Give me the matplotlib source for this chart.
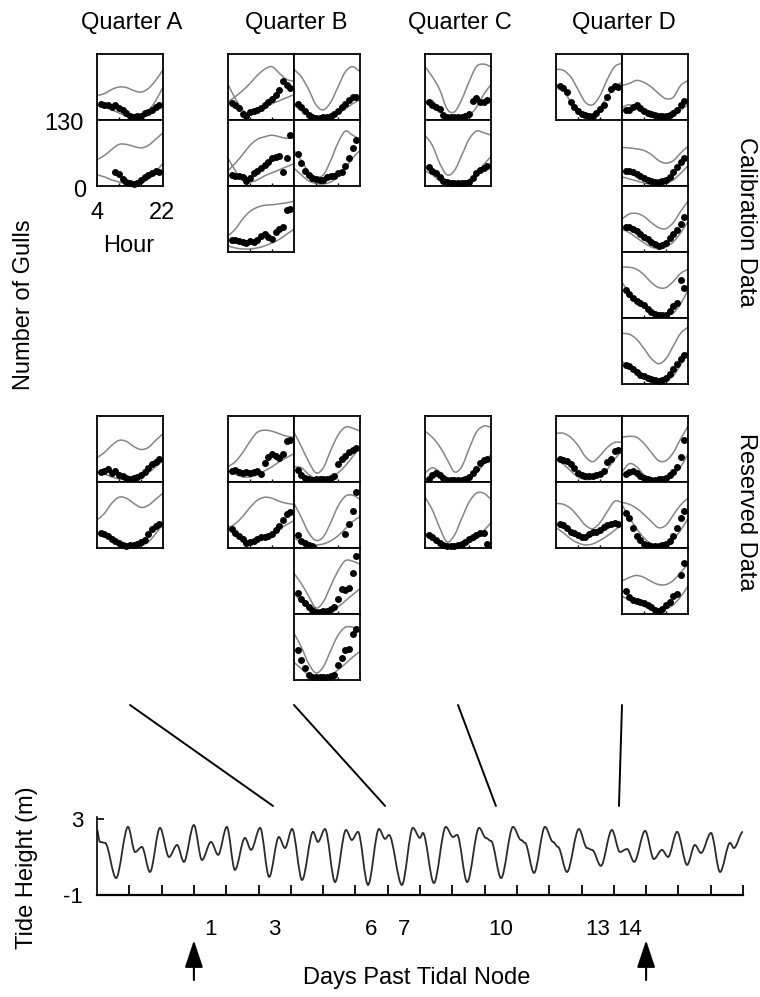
import numpy as np
import matplotlib
matplotlib.use("Agg")
import matplotlib.pyplot as plt
from matplotlib.patches import ConnectionPatch, PathPatch
from matplotlib.path import Path

plt.rcParams['font.family'] = ['Liberation Sans', 'DejaVu Sans']

W, H = 760, 997
nan = np.nan

# hours used for the model curves and the observed counts in every small panel
curve_hours = [4, 6, 8, 10, 12, 14, 16, 18, 20, 22]
obs_hours = list(range(5, 22))

# ---------------- calibration data (rows listed top to bottom) ----------------
cal_A_upper = [[48, 52, 60, 65, 64, 58, 55, 62, 78, 99],
               [52, 60, 72, 82, 82, 78, 75, 80, 92, 105]]
cal_A_lower = [[30, 26, 20, 14, 8, 6, 8, 18, 38, 65],
               [22, 18, 12, 8, 4, 3, 6, 14, 28, 45]]
cal_A_obs = [[31, 29, 29, 26, 29, 23, 20, 13, 8, 5, 8, 7, 13, 16, 20, 26, 29],
             [nan, nan, nan, nan, 27, 24, 13, 8, 5, 4, 6, 12, 18, 22, 25, 30, 28]]

cal_B1_upper = [[36, 46, 58, 72, 88, 100, 105, 92, 80, 76],
                [30, 45, 62, 80, 92, 97, 100, 97, 94, 95],
                [32, 45, 65, 80, 88, 92, 93, 95, 97, 100]]
cal_B1_lower = [[70, 42, 20, 12, 16, 25, 32, 38, 44, 50],
                [55, 30, 12, 8, 12, 20, 26, 32, 38, 44],
                [12, 8, 6, 6, 8, 12, 18, 25, 35, 45]]
cal_B1_obs = [[34, 30, 24, 12, 8, 16, 18, 20, 24, 30, 36, 42, 50, 60, 76, 68, 64],
              [22, 20, 20, 18, 10, 15, 26, 30, 36, 42, 48, 55, 58, 60, 28, 56, 100],
              [24, 24, 22, 20, 18, 22, 20, 24, 32, 36, 30, 26, 40, 45, 50, 82, 85]]

cal_B2_upper = [[100, 85, 60, 30, 20, 35, 65, 95, 105, 95],
                [70, 50, 28, 18, 22, 50, 85, 108, 100, 92]]
cal_B2_lower = [[30, 18, 8, 4, 3, 5, 12, 22, 32, 40],
                [35, 22, 10, 5, 4, 8, 18, 35, 55, 70]]
cal_B2_obs = [[31, 25, 18, 10, 6, 4, 4, 5, 6, 8, 12, 18, 25, 32, 40, 45, 46],
              [64, 45, 30, 22, 16, 13, 12, 12, 18, 20, 20, 25, 28, 40, 55, 75, 90]]

cal_C_upper = [[105, 85, 60, 22, 16, 40, 75, 105, 110, 105],
               [100, 80, 45, 22, 30, 60, 92, 108, 105, 100]]
cal_C_lower = [[35, 38, 20, 5, 2, 3, 8, 25, 50, 70],
               [30, 22, 10, 4, 3, 5, 12, 25, 42, 58]]
cal_C_obs = [[36, 30, 26, 22, 10, 6, 5, 5, 5, 5, 8, 12, 38, 44, 36, 35, 40],
             [38, 30, 26, 18, 10, 8, 6, 5, 5, 5, 6, 8, 16, 25, 32, 36, 40]]

cal_D1_upper = [[100, 98, 85, 60, 35, 30, 48, 80, 105, 112]]
cal_D1_lower = [[70, 60, 35, 15, 8, 10, 25, 45, 65, 75]]
cal_D1_obs = [[66, 64, 56, 35, 25, 18, 12, 9, 8, 8, 14, 22, 30, 45, 62, 66, 65]]

cal_D2_upper = [[68, 72, 78, 74, 65, 52, 42, 45, 68, 78],
                [76, 75, 73, 70, 62, 50, 45, 50, 65, 78],
                [65, 75, 76, 70, 58, 48, 46, 58, 80, 100],
                [100, 100, 96, 85, 70, 60, 60, 72, 88, 96],
                [100, 98, 88, 70, 50, 40, 50, 75, 100, 112]]
cal_D2_lower = [[25, 30, 22, 12, 6, 4, 5, 10, 20, 30],
                [18, 14, 10, 6, 3, 2, 5, 12, 25, 40],
                [45, 38, 28, 18, 10, 6, 10, 20, 38, 60],
                [70, 50, 35, 22, 10, 4, 3, 10, 28, 55],
                [45, 32, 22, 12, 6, 3, 6, 16, 38, 65]]
cal_D2_obs = [[20, 20, 26, 30, 24, 18, 14, 12, 9, 8, 8, 8, 10, 14, 20, 30, 38],
              [30, 30, 27, 24, 20, 15, 12, 10, 8, 8, 10, 12, 18, 28, 38, 48, 56],
              [50, 50, 46, 42, 36, 30, 25, 20, 15, 12, 14, 18, 28, 36, 44, 55, 68],
              [55, 48, 40, 34, 30, 26, 18, 12, 8, 6, 5, 6, 14, 24, 30, 74, 60],
              [38, 35, 30, 24, 18, 16, 12, 10, 8, 6, 8, 12, 20, 30, 40, 50, 58]]

# ---------------- reserved data ----------------
res_A_upper = [[48, 58, 72, 82, 80, 70, 64, 68, 82, 95],
               [55, 68, 88, 100, 98, 88, 80, 84, 96, 108]]
res_A_lower = [[20, 16, 10, 6, 4, 6, 10, 18, 30, 42],
               [30, 25, 18, 10, 4, 2, 4, 12, 28, 48]]
res_A_obs = [[20, 22, 26, 18, 22, 14, 12, 8, 6, 8, 10, 14, 20, 28, 36, 40, 45],
             [30, 28, 24, 18, 14, 10, 6, 3, 5, 6, 8, 12, 16, 28, 38, 44, 48]]

res_B1_upper = [[30, 40, 58, 80, 98, 102, 100, 95, 90, 88],
                [38, 48, 62, 80, 94, 100, 98, 92, 88, 86]]
res_B1_lower = [[22, 15, 10, 10, 14, 22, 30, 40, 48, 56],
                [45, 28, 14, 10, 14, 22, 30, 38, 46, 54]]
res_B1_obs = [[22, 24, 20, 18, 20, 18, 20, 22, 16, 38, 50, 55, 52, 48, 56, 80, 82],
              [38, 30, 24, 18, 10, 12, 14, 18, 22, 22, 24, 28, 36, 44, 55, 66, 70]]

res_B2_upper = [[98, 70, 40, 18, 28, 62, 92, 108, 106, 100],
                [88, 60, 30, 15, 22, 50, 82, 102, 104, 96],
                [80, 60, 35, 12, 24, 55, 85, 105, 104, 98],
                [92, 65, 32, 14, 26, 58, 88, 104, 104, 100]]
res_B2_lower = [[30, 28, 15, 6, 4, 8, 18, 32, 50, 70],
                [20, 12, 8, 6, 8, 14, 24, 38, 52, 62],
                [40, 25, 12, 4, 3, 6, 14, 26, 38, 50],
                [35, 22, 10, 4, 4, 10, 20, 32, 45, 56]]
res_B2_obs = [[24, 14, 8, 5, 4, 5, 5, 5, 6, 8, 12, 35, 45, 52, 60, 64, 66],
              [25, 14, 9, 5, 3, nan, nan, nan, nan, nan, nan, nan, nan, 28, 48, 72, 110],
              [42, 30, 22, 14, 8, 4, 4, 5, 6, 10, 14, 30, 50, 48, 52, 80, 115],
              [60, 40, 24, 10, 6, 5, 5, 6, 6, 8, 10, 30, 44, 60, 62, 90, 100]]

res_C_upper = [[100, 88, 70, 45, 20, 30, 65, 98, 110, 108],
               [100, 75, 40, 12, 25, 58, 90, 108, 108, 96]]
res_C_lower = [[18, 28, 20, 8, 3, 3, 8, 18, 35, 55],
               [30, 18, 8, 3, 2, 4, 10, 20, 34, 50]]
res_C_obs = [[6, 14, 18, 14, 8, 4, 3, 3, 3, 4, 6, 10, 18, 26, 38, 44, 46],
             [26, 22, 16, 10, 6, 4, 4, 4, 5, 8, 12, 18, 22, 26, 30, 30, 8]]

res_D1_upper = [[96, 96, 88, 72, 50, 40, 52, 68, 78, 78],
                [88, 86, 78, 62, 45, 38, 50, 72, 92, 90]]
res_D1_lower = [[45, 35, 22, 10, 5, 6, 12, 25, 45, 62],
                [40, 30, 18, 10, 6, 8, 15, 24, 35, 46]]
res_D1_obs = [[46, 44, 42, 36, 28, 18, 14, 12, 12, 12, 14, 16, 22, 40, 46, 62, 64],
              [48, 46, 40, 32, 30, 26, 22, 22, 28, 32, 32, 36, 42, 46, 48, 50, 48]]

res_D2_upper = [[88, 90, 88, 76, 58, 42, 42, 58, 85, 110],
                [90, 86, 78, 66, 52, 40, 45, 65, 85, 98],
                [65, 72, 76, 72, 64, 58, 58, 66, 82, 98]]
res_D2_lower = [[20, 36, 30, 14, 6, 4, 6, 14, 30, 55],
                [85, 60, 38, 20, 8, 4, 8, 18, 35, 58],
                [35, 28, 22, 15, 10, 8, 10, 18, 34, 55]]
res_D2_obs = [[16, 20, 22, 18, 12, 8, 5, 4, 4, 5, 6, 8, 14, 20, 30, 50, 82],
              [68, 60, 40, 24, 15, 8, 5, 4, 4, 4, 5, 8, 14, 24, 40, 60, 72],
              [46, 34, 28, 26, 24, 22, 18, 14, 8, 6, 10, 18, 24, 36, 40, 76, 100]]

# ---------------- tide record (turning points) ----------------
tide_day = [-2.50, -2.41, -2.25, -1.91, -1.54, -1.32, -1.11, -0.86, -0.55, -0.27,
            -0.02, 0.19, 0.50, 0.75, 1.03, 1.25, 1.52, 1.77, 2.08, 2.27,
            2.55, 2.83, 3.13, 3.32, 3.54, 3.85, 4.19, 4.34, 4.56, 4.87,
            5.21, 5.39, 5.58, 5.89, 6.23, 6.42, 6.54, 6.94, 7.28, 7.50,
            7.59, 7.93, 8.30, 8.52, 8.65, 8.96, 9.33, 9.54, 9.70, 10.01,
            10.38, 10.63, 10.75, 11.03, 11.37, 11.62, 11.77, 12.05, 12.42, 12.67,
            12.83, 13.10, 13.44, 13.69, 13.91, 14.13, 14.47, 14.74, 14.99, 15.18,
            15.46, 15.77, 16.01, 16.20, 16.51, 16.79, 17.10, 17.22, 17.50]
tide_height = [2.42, 1.79, 1.74, -0.11, 2.58, 1.26, 1.53, 0.21, 2.53, 1.00,
               1.63, 0.74, 2.68, 0.84, 1.79, 1.11, 2.58, 0.32, 2.00, 1.37,
               2.53, -0.05, 2.05, 1.47, 2.47, -0.21, 2.32, 1.79, 2.47, -0.32,
               2.42, 1.89, 2.32, -0.47, 2.47, 1.95, 2.16, -0.47, 2.53, 2.00,
               2.26, -0.37, 2.58, 2.05, 2.16, -0.32, 2.53, 2.00, 1.84, -0.11,
               2.58, 1.89, 1.74, 0.16, 2.58, 1.79, 1.53, 0.21, 2.47, 1.47,
               1.37, 0.53, 2.42, 1.26, 1.42, 0.74, 2.37, 0.89, 1.37, 1.00,
               2.32, 0.58, 1.63, 1.21, 2.26, 0.21, 1.74, 1.47, 2.32]
day_labels = [1, 3, 6, 7, 10, 13, 14]
node_days = [0.5, 14.5]
quarter_days = [2.95, 6.42, 9.85, 13.66]   # where each quarter's line meets the tide
quarters = ['Quarter A', 'Quarter B', 'Quarter C', 'Quarter D']

# ---------------- layout (pixels) ----------------
col_left = {'A': 97, 'B1': 228, 'B2': 294, 'C': 425, 'D1': 556, 'D2': 622}
quarter_cx = [130, 294, 458, 622]
PW = 66
cal_top, res_top = 54, 416

cal_cols = {'A': (cal_A_upper, cal_A_lower, cal_A_obs),
            'B1': (cal_B1_upper, cal_B1_lower, cal_B1_obs),
            'B2': (cal_B2_upper, cal_B2_lower, cal_B2_obs),
            'C': (cal_C_upper, cal_C_lower, cal_C_obs),
            'D1': (cal_D1_upper, cal_D1_lower, cal_D1_obs),
            'D2': (cal_D2_upper, cal_D2_lower, cal_D2_obs)}
res_cols = {'A': (res_A_upper, res_A_lower, res_A_obs),
            'B1': (res_B1_upper, res_B1_lower, res_B1_obs),
            'B2': (res_B2_upper, res_B2_lower, res_B2_obs),
            'C': (res_C_upper, res_C_lower, res_C_obs),
            'D1': (res_D1_upper, res_D1_lower, res_D1_obs),
            'D2': (res_D2_upper, res_D2_lower, res_D2_obs)}

GRAY = '#858585'
FS = 17

fig = plt.figure(figsize=(W / 100, H / 100), dpi=100)


def px_axes(left, top, width, height):
    return fig.add_axes([left / W, 1 - (top + height) / H, width / W, height / H])


def ftext(x, y, s, **kw):
    kw.setdefault('fontsize', FS)
    kw.setdefault('ha', 'center')
    kw.setdefault('va', 'center')
    return fig.text(x / W, 1 - y / H, s, **kw)


def smooth_path(x, y, flat=False):
    # cubic Bezier through the given points; flat=True puts level tangents at each point
    x = np.asarray(x, float)
    y = np.asarray(y, float)
    n = len(x)
    if flat:
        m = np.zeros(n)
    else:
        m = np.empty(n)
        m[1:-1] = (y[2:] - y[:-2]) / (x[2:] - x[:-2])
        m[0] = (y[1] - y[0]) / (x[1] - x[0])
        m[-1] = (y[-1] - y[-2]) / (x[-1] - x[-2])
    verts = [(x[0], y[0])]
    codes = [Path.MOVETO]
    for i in range(n - 1):
        dx = (x[i + 1] - x[i]) / 3
        verts += [(x[i] + dx, y[i] + m[i] * dx),
                  (x[i + 1] - dx, y[i + 1] - m[i + 1] * dx),
                  (x[i + 1], y[i + 1])]
        codes += [Path.CURVE4] * 3
    return Path(verts, codes)


def panel(ax, upper, lower, obs):
    for curve in (upper, lower):
        ax.add_patch(PathPatch(smooth_path(curve_hours, curve), fill=False,
                               edgecolor=GRAY, lw=1.1))
    ax.plot(obs_hours, obs, 'o', color='black', ms=5.0, mew=0, clip_on=False, zorder=3)
    ax.set_xlim(4, 22)
    ax.set_ylim(0, 130)
    ax.set_xticks([10, 16])
    ax.set_yticks([])
    ax.tick_params(axis='x', direction='in', length=2.5, width=1, labelbottom=False)
    for sp in ax.spines.values():
        sp.set_linewidth(1.3)
        sp.set_zorder(4)


for cols, top in ((cal_cols, cal_top), (res_cols, res_top)):
    for key, (ups, los, obss) in cols.items():
        for r, (u, lo, ob) in enumerate(zip(ups, los, obss)):
            ax = px_axes(col_left[key], top + r * PW, PW, PW)
            panel(ax, u, lo, ob)

# axis hints on the first calibration column
ftext(64, 124, '130')
ftext(80, 191, '0')
ftext(97, 213, '4')
ftext(162, 213, '22')
ftext(129, 246, 'Hour')
ftext(24, 305, 'Number of Gulls', rotation=90)

for name, cx in zip(quarters, quarter_cx):
    ftext(cx + 2, 23, name)

ftext(746, 222, 'Calibration Data', rotation=-90)
ftext(746, 512, 'Reserved Data', rotation=-90)

# ---------------- tide panel ----------------
axt = px_axes(97, 817, 743 - 97, 895 - 817)
axt.add_patch(PathPatch(smooth_path(tide_day, tide_height, flat=True), fill=False,
                        edgecolor='#2a2a2a', lw=1.3))
axt.set_xlim(-2.5, 17.5)
axt.set_ylim(-1, 3.1)
axt.spines['top'].set_visible(False)
axt.spines['right'].set_visible(False)
axt.spines['left'].set_linewidth(1.2)
axt.spines['bottom'].set_linewidth(1.6)
axt.set_yticks([-1, 3])
axt.set_yticklabels(['-1', '3'])
axt.tick_params(axis='y', direction='in', length=5, width=1.2, labelsize=16, pad=10)
axt.set_xticks(np.arange(-1.5, 18, 1))
axt.set_xticklabels([])
axt.tick_params(axis='x', which='major', direction='in', length=7, width=1.3)
axt.set_xticks(day_labels, minor=True)
axt.set_xticklabels([str(d) for d in day_labels], minor=True)
axt.tick_params(axis='x', which='minor', length=0, labelsize=16, pad=17)

ftext(417, 978, 'Days Past Tidal Node')
ftext(27, 868, 'Tide Height (m)', rotation=90)

for d in node_days:
    axt.annotate('', xy=(d, -0.58), xytext=(d, -1.09),
                 xycoords=axt.get_xaxis_transform(),
                 arrowprops=dict(arrowstyle='-|>,head_length=1.2,head_width=0.4',
                                 mutation_scale=14, color='black', lw=1.5,
                                 shrinkA=0, shrinkB=0))

for cx, d in zip(quarter_cx, quarter_days):
    con = ConnectionPatch(xyA=(cx / W, 1 - 705 / H), coordsA=fig.transFigure,
                          xyB=(d, 3.68), coordsB=axt.transData,
                          color='black', lw=1.4)
    fig.add_artist(con)

fig.savefig('out.png', dpi=100)
